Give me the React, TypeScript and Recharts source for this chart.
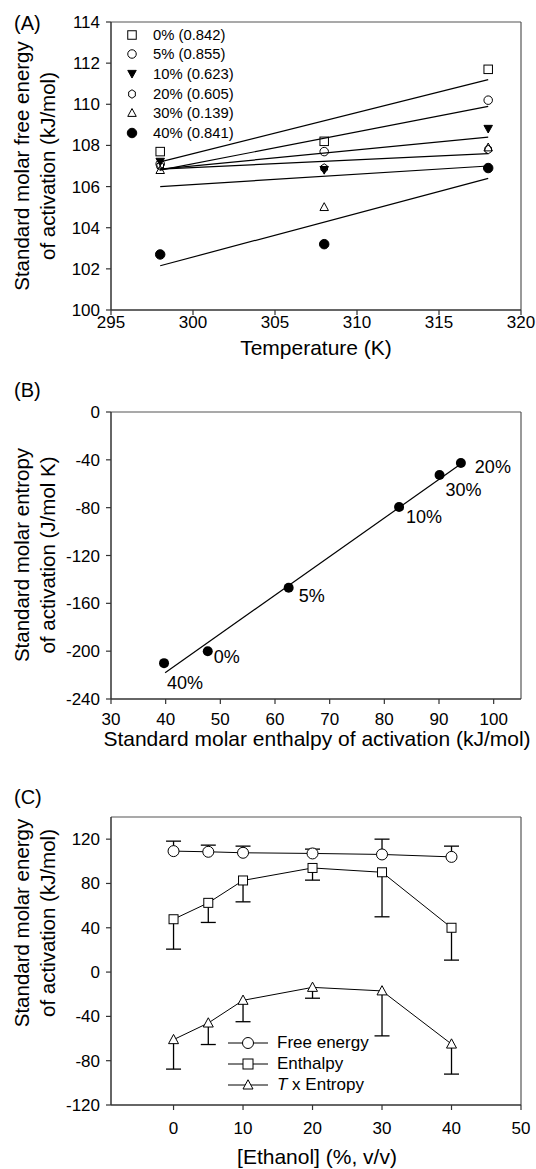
import React from "react";
import {
  ComposedChart,
  Scatter,
  Line,
  XAxis,
  YAxis,
  ErrorBar,
  ReferenceLine,
  Legend,
} from "recharts";

const FONT = '"Liberation Sans", Arial, Helvetica, sans-serif';

// ---------- (A) free energy of activation vs temperature ----------
const temperatures = [298, 308, 318];
const seriesNamesA = ["0% (0.842)", "5% (0.855)", "10% (0.623)", "20% (0.605)", "30% (0.139)", "40% (0.841)"];
const markerKindsA = ["square", "circle", "triDown", "hexagon", "triUp", "dot"];
const dG0 = [107.7, 108.2, 111.7];
const dG5 = [107.1, 107.7, 110.2];
const dG10 = [107.2, 106.8, 108.8];
const dG20 = [107.0, 106.9, 107.8];
const dG30 = [106.8, 105.0, 107.9];
const dG40 = [102.7, 103.2, 106.9];
const fitTemps = [298, 318];
const fit0 = [107.2, 111.2];
const fit5 = [106.8, 109.9];
const fit10 = [106.85, 108.4];
const fit20 = [106.85, 107.6];
const fit30 = [106.0, 107.0];
const fit40 = [102.15, 106.4];
const tempTicks = [295, 300, 305, 310, 315, 320];
const dGTicks = [100, 102, 104, 106, 108, 110, 112, 114];

// ---------- (B) entropy vs enthalpy ----------
const ethanolNamesB = ["0%", "5%", "10%", "20%", "30%", "40%"];
const enthalpyB = [47.7, 62.5, 82.7, 94.0, 90.1, 39.7];
const entropyB = [-200, -147, -79.5, -42.6, -52.7, -210];
const fitEnthalpyB = [39.9, 94.3];
const fitEntropyB = [-218, -42.5];
const enthalpyTicks = [30, 40, 50, 60, 70, 80, 90, 100];
const entropyTicks = [-240, -200, -160, -120, -80, -40, 0];

// ---------- (C) energies vs ethanol ----------
const ethanol = [0, 5, 10, 20, 30, 40];
const freeEnergy = [109.2, 108.6, 107.7, 107.1, 106.2, 104.0];
const freeEnergyErr = [9, 6, 6, 3.9, 13.8, 9.7];
const enthalpy = [47.7, 62.5, 82.7, 94.0, 90.1, 40.0];
const enthalpyErr = [27, 17.7, 19.3, 11, 40.2, 29.2];
const tEntropy = [-61, -46, -25.5, -13.8, -17, -65];
const tEntropyErr = [26.6, 19.4, 19.3, 9.8, 40.6, 27.1];
const seriesNamesC = ["Free energy", "Enthalpy", "T x Entropy"];
const ethanolTicks = [0, 10, 20, 30, 40, 50];
const energyTicks = [-120, -80, -40, 0, 40, 80, 120];

// ---------- styles ----------
const tickStyle = { fill: "#000", fontSize: 17, fontFamily: FONT };
const axisLine = { stroke: "#333", strokeWidth: 1.5 };
const tickLine = { stroke: "#333", strokeWidth: 1.2 };
const frame = { stroke: "#555", strokeWidth: 1.2 };
const labelOffsetB: Record<string, [number, number]> = {
  "0%": [6, 5],
  "5%": [10, 8],
  "10%": [7, 9],
  "20%": [14, 4],
  "30%": [6, 14],
  "40%": [3, 19],
};

function Marker({ kind, cx, cy, s, fill = "none" }: any) {
  const h = s / 2;
  const st = { stroke: "#000", strokeWidth: 1 };
  if (kind === "square") return <rect x={cx - h} y={cy - h} width={s} height={s} fill={fill} {...st} />;
  if (kind === "circle") return <circle cx={cx} cy={cy} r={h} fill={fill} {...st} />;
  if (kind === "dot") return <circle cx={cx} cy={cy} r={h} fill="#000" {...st} />;
  if (kind === "triDown")
    return <polygon points={`${cx - h},${cy - h * 0.85} ${cx + h},${cy - h * 0.85} ${cx},${cy + h * 0.95}`} fill="#000" {...st} />;
  if (kind === "triUp")
    return <polygon points={`${cx},${cy - h * 1.05} ${cx + h},${cy + h * 0.8} ${cx - h},${cy + h * 0.8}`} fill={fill} {...st} />;
  const pts = [0, 1, 2, 3, 4, 5]
    .map((k) => {
      const a = -Math.PI / 2 + (k * Math.PI) / 3;
      return `${cx + h * 0.9 * Math.cos(a)},${cy + h * Math.sin(a)}`;
    })
    .join(" ");
  return <polygon points={pts} fill={fill} {...st} />;
}

const noShape = () => <g />;

function LegendA() {
  return (
    <div style={{ fontFamily: FONT, fontSize: 14.8, color: "#000" }}>
      {seriesNamesA.map((n, i) => (
        <div key={n} style={{ height: 19.6, display: "flex", alignItems: "center", whiteSpace: "nowrap" }}>
          <svg width={14} height={14} style={{ overflow: "visible" }}>
            <Marker kind={markerKindsA[i]} cx={7} cy={7} s={i === 5 ? 9.5 : 8.5} />
          </svg>
          <span style={{ marginLeft: 14 }}>{n}</span>
        </div>
      ))}
    </div>
  );
}

const markerKindsC = ["circle", "square", "triUp"];
function LegendC() {
  return (
    <div style={{ fontFamily: FONT, fontSize: 17, color: "#000" }}>
      {seriesNamesC.map((n, i) => (
        <div key={n} style={{ height: 21, display: "flex", alignItems: "center", whiteSpace: "nowrap" }}>
          <svg width={40} height={14} style={{ overflow: "visible" }}>
            <line x1={0} x2={40} y1={7} y2={7} stroke="#000" strokeWidth={1} />
            <Marker kind={markerKindsC[i]} cx={20} cy={7} s={i === 0 ? 11 : 10} fill="#fff" />
          </svg>
          <span style={{ marginLeft: 9 }}>
            {n.startsWith("T ") ? (
              <>
                <i>T</i>
                {n.slice(1)}
              </>
            ) : (
              n
            )}
          </span>
        </div>
      ))}
    </div>
  );
}

function PanelA() {
  const points = [dG0, dG5, dG10, dG20, dG30, dG40].map((vals) =>
    temperatures.map((t, i) => ({ t, v: vals[i] }))
  );
  const fits = [fit0, fit5, fit10, fit20, fit30, fit40].map((vals) =>
    fitTemps.map((t, i) => ({ t, v: vals[i] }))
  );
  return (
    <ComposedChart width={536} height={355} margin={{ top: 22, right: 15, bottom: 0, left: 51 }}>
      <XAxis type="number" dataKey="t" domain={[295, 320]} ticks={tempTicks} height={45}
        tick={tickStyle} tickSize={5} tickMargin={1} axisLine={axisLine} tickLine={tickLine} />
      <YAxis type="number" dataKey="v" domain={[100, 114]} ticks={dGTicks} width={60}
        tick={tickStyle} tickSize={5} tickMargin={6} axisLine={axisLine} tickLine={tickLine} />
      <ReferenceLine y={114} {...frame} />
      <ReferenceLine x={320} {...frame} />
      {fits.map((d, i) => (
        <Scatter key={"f" + i} data={d} fill="#000" line={{ stroke: "#000", strokeWidth: 1.2 }}
          shape={noShape} legendType="none" isAnimationActive={false} />
      ))}
      {points.map((d, i) => (
        <Scatter key={"p" + i} name={seriesNamesA[i]} data={d} fill="#000" isAnimationActive={false}
          shape={(p: any) => <Marker kind={markerKindsA[i]} cx={p.cx} cy={p.cy} s={i === 5 ? 9.5 : 8.5} />} />
      ))}
      <Legend layout="vertical" align="center" verticalAlign="middle" content={() => <LegendA />}
        wrapperStyle={{ left: 125, top: 25, width: "auto" }} />
    </ComposedChart>
  );
}

function PanelB() {
  const points = ethanolNamesB.map((n, i) => ({ h: enthalpyB[i], s: entropyB[i], name: n }));
  const fit = fitEnthalpyB.map((h, i) => ({ h, s: fitEntropyB[i] }));
  return (
    <ComposedChart width={536} height={364} margin={{ top: 32, right: 15, bottom: 0, left: 51 }}>
      <XAxis type="number" dataKey="h" domain={[30, 105]} ticks={enthalpyTicks} height={45}
        tick={tickStyle} tickSize={5} tickMargin={9} axisLine={axisLine} tickLine={tickLine} />
      <YAxis type="number" dataKey="s" domain={[-240, 0]} ticks={entropyTicks} width={60}
        tick={tickStyle} tickSize={5} tickMargin={6} axisLine={axisLine} tickLine={tickLine} />
      <ReferenceLine y={0} {...frame} />
      <ReferenceLine x={105} {...frame} />
      <Scatter data={fit} fill="#000" line={{ stroke: "#000", strokeWidth: 1.2 }} shape={noShape}
        legendType="none" isAnimationActive={false} />
      <Scatter data={points} fill="#000" isAnimationActive={false}
        shape={(p: any) => {
          const [dx, dy] = labelOffsetB[p.payload.name];
          return (
            <g>
              <circle cx={p.cx} cy={p.cy} r={5} fill="#000" />
              <text x={p.cx + dx} y={p.cy + dy} dy="0.36em" fontSize={18} fontFamily={FONT} fill="#000">
                {p.payload.name}
              </text>
            </g>
          );
        }} />
    </ComposedChart>
  );
}

function PanelC() {
  const rows = ethanol.map((x, i) => ({
    x,
    fe: freeEnergy[i],
    feRange: [0, freeEnergyErr[i]],
    en: enthalpy[i],
    enRange: [enthalpyErr[i], 0],
    ts: tEntropy[i],
    tsRange: [tEntropyErr[i], 0],
  }));
  const caps = ethanol.flatMap((x, i) => [
    { x, y: freeEnergy[i] + freeEnergyErr[i] },
    { x, y: enthalpy[i] - enthalpyErr[i] },
    { x, y: tEntropy[i] - tEntropyErr[i] },
  ]);
  const dot = (kind: string, s: number) => (p: any) =>
    <Marker key={kind + p.index} kind={kind} cx={p.cx} cy={p.cy} s={s} fill="#fff" />;
  return (
    <ComposedChart width={536} height={370} data={rows} margin={{ top: 37, right: 15, bottom: 0, left: 51 }}>
      <XAxis type="number" dataKey="x" domain={[-9, 50]} ticks={ethanolTicks} height={45}
        tick={tickStyle} tickSize={5} tickMargin={12} axisLine={axisLine} tickLine={tickLine} />
      <YAxis type="number" domain={[-120, 140]} ticks={energyTicks} width={60}
        tick={tickStyle} tickSize={5} tickMargin={6} axisLine={axisLine} tickLine={tickLine} />
      <ReferenceLine y={140} {...frame} />
      <ReferenceLine x={50} {...frame} />
      <Scatter data={caps} dataKey="y" fill="#000" legendType="none" isAnimationActive={false}
        shape={(p: any) => <line x1={p.cx - 7.5} x2={p.cx + 7.5} y1={p.cy} y2={p.cy} stroke="#000" strokeWidth={1.3} />} />
      <Line dataKey="fe" name={seriesNamesC[0]} stroke="#000" strokeWidth={1} dot={dot("circle", 11)}
        activeDot={false} isAnimationActive={false}>
        <ErrorBar dataKey="feRange" width={0} stroke="#000" strokeWidth={1.3} direction="y" isAnimationActive={false} />
      </Line>
      <Line dataKey="en" name={seriesNamesC[1]} stroke="#000" strokeWidth={1} dot={dot("square", 9)}
        activeDot={false} isAnimationActive={false}>
        <ErrorBar dataKey="enRange" width={0} stroke="#000" strokeWidth={1.3} direction="y" isAnimationActive={false} />
      </Line>
      <Line dataKey="ts" name={seriesNamesC[2]} stroke="#000" strokeWidth={1} dot={dot("triUp", 10)}
        activeDot={false} isAnimationActive={false}>
        <ErrorBar dataKey="tsRange" width={0} stroke="#000" strokeWidth={1.3} direction="y" isAnimationActive={false} />
      </Line>
      <Legend layout="vertical" align="center" verticalAlign="middle" content={() => <LegendC />}
        wrapperStyle={{ left: 228, top: 252, width: "auto" }} />
    </ComposedChart>
  );
}

function VTitle({ lines, cy }: { lines: string[]; cy: number }) {
  return (
    <div style={{ position: "absolute", left: 35, top: cy, width: 0, height: 0 }}>
      <div style={{ position: "absolute", transform: "translate(-50%,-50%) rotate(-90deg)", whiteSpace: "nowrap",
        textAlign: "center", fontSize: 20.5, lineHeight: "26px" }}>
        {lines.map((l) => <div key={l}>{l}</div>)}
      </div>
    </div>
  );
}

function HText({ text, cx, cy, size = 21, left }: any) {
  return (
    <div style={{ position: "absolute", left: cx, top: cy, width: 0, height: 0 }}>
      <div style={{ position: "absolute", transform: left ? "translate(0,-50%)" : "translate(-50%,-50%)",
        whiteSpace: "nowrap", fontSize: size, lineHeight: "20px" }}>
        {text}
      </div>
    </div>
  );
}

export default function App() {
  return (
    <div style={{ position: "absolute", left: 0, top: 0, width: 536, height: 1169, background: "#fff",
      fontFamily: FONT, color: "#000", overflow: "hidden" }}>
      <div style={{ position: "absolute", left: 0, top: 0 }}><PanelA /></div>
      <div style={{ position: "absolute", left: 0, top: 380 }}><PanelB /></div>
      <div style={{ position: "absolute", left: 0, top: 780 }}><PanelC /></div>

      <HText text="(A)" cx={14} cy={23} size={20} left />
      <VTitle lines={["Standard molar free energy", "of activation (kJ/mol)"]} cy={166} />
      <HText text="Temperature (K)" cx={316} cy={348} />

      <HText text="(B)" cx={14} cy={390} size={20} left />
      <VTitle lines={["Standard molar entropy", "of activation (J/mol K)"]} cy={555} />
      <HText text="Standard molar enthalpy of activation (kJ/mol)" cx={317} cy={739} />

      <HText text="(C)" cx={14} cy={797} size={20} left />
      <VTitle lines={["Standard molar energy", "of activation (kJ/mol)"]} cy={923} />
      <HText text="[Ethanol] (%, v/v)" cx={317} cy={1157} />
    </div>
  );
}
